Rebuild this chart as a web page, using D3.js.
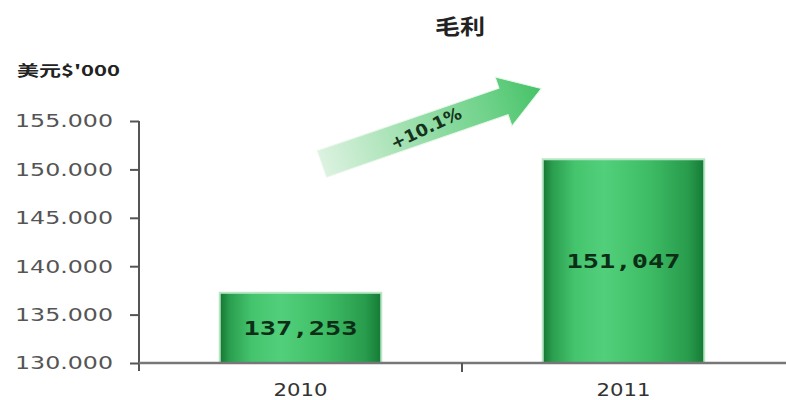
<!DOCTYPE html>
<html>
<head>
<meta charset="utf-8">
<script src="https://cdn.jsdelivr.net/npm/d3@7"></script>
<style>
  html, body { margin: 0; padding: 0; background: #fff; }
  svg { display: block; }
</style>
</head>
<body>
<svg id="chart" width="786" height="400"></svg>
<script>
// Gross profit by year (thousands)
const categories = ["2010", "2011"];
const values = [137253, 151047];
const yTicks = [130000, 135000, 140000, 145000, 150000, 155000];
const title = "毛利";
const unitLabel = "美元$'000";

const svg = d3.select("#chart");
const W = 786, H = 400;
const axisX = 139, axisY = 363, topY = 121;

const x = d3.scaleBand().domain(categories).range([axisX, W - 1])
  .paddingInner(0.5).paddingOuter(0.25);
const y = d3.scaleLinear().domain([130000, 155000]).range([axisY, topY]);

const defs = svg.append("defs");
const barGrad = defs.append("linearGradient").attr("id", "barGrad")
  .attr("x1", 0).attr("x2", 1).attr("y1", 0).attr("y2", 0);
[[0, "#147532"], [0.06, "#2a9e4e"], [0.2, "#45c46e"], [0.38, "#52cf7a"],
 [0.65, "#3fbd66"], [0.9, "#289c4c"], [1, "#157a36"]]
  .forEach(([o, c]) => barGrad.append("stop").attr("offset", o).attr("stop-color", c));

const arrowGrad = defs.append("linearGradient").attr("id", "arrowGrad")
  .attr("x1", 0).attr("x2", 1).attr("y1", 0).attr("y2", 0);
[[0, "#dcf2e0"], [0.35, "#a6e2b4"], [0.75, "#6fd28a"], [1, "#45c266"]]
  .forEach(([o, c]) => arrowGrad.append("stop").attr("offset", o).attr("stop-color", c));

// Title and unit label
svg.append("text").attr("x", 460).attr("y", 34).attr("text-anchor", "middle")
  .attr("font-family", "Noto Sans CJK TC, sans-serif").attr("font-weight", "bold")
  .attr("font-size", 21).attr("fill", "#222")
  .attr("textLength", 50).attr("lengthAdjust", "spacingAndGlyphs")
  .text(title);

svg.append("text").attr("x", 17).attr("y", 76)
  .attr("font-family", "Noto Sans CJK TC, DejaVu Sans, sans-serif").attr("font-weight", "bold")
  .attr("font-size", 15).attr("fill", "#222")
  .attr("textLength", 103).attr("lengthAdjust", "spacingAndGlyphs")
  .text(unitLabel);

// Bars
const bars = svg.append("g");
bars.selectAll("rect").data(values).join("rect")
  .attr("x", (d, i) => x(categories[i]))
  .attr("width", x.bandwidth())
  .attr("y", d => y(d))
  .attr("height", d => axisY - y(d))
  .attr("fill", "url(#barGrad)")
  .attr("stroke", "#b8e6c4").attr("stroke-width", 2);

bars.selectAll("text").data(values).join("text")
  .attr("x", (d, i) => x(categories[i]) + x.bandwidth() / 2)
  .attr("y", d => (y(d) + axisY) / 2 + 7)
  .attr("text-anchor", "middle")
  .attr("font-family", "DejaVu Sans Mono, monospace").attr("font-weight", "bold")
  .attr("font-size", 20).attr("fill", "#0c2e16")
  .attr("textLength", 114).attr("lengthAdjust", "spacingAndGlyphs")
  .text(d => d3.format(",")(d));

// Y axis
const yAxis = svg.append("g").attr("transform", `translate(${axisX},0)`)
  .call(d3.axisLeft(y).tickValues(yTicks).tickSize(9).tickSizeOuter(0)
    .tickFormat(d => d3.format(",")(d).replace(",", ".")));
yAxis.select(".domain").attr("stroke", "#555").attr("stroke-width", 2)
  .attr("d", `M0,${topY}V${axisY + 8}`);
yAxis.selectAll(".tick line").attr("stroke", "#555").attr("stroke-width", 2);
yAxis.selectAll(".tick text").attr("x", -26).attr("dy", "0.35em")
  .attr("font-family", "DejaVu Sans, sans-serif").attr("font-size", 17)
  .attr("fill", "#555")
  .attr("textLength", 98).attr("lengthAdjust", "spacingAndGlyphs");

// X axis
const xAxis = svg.append("g").attr("transform", `translate(0,${axisY})`);
xAxis.append("line").attr("x1", axisX).attr("x2", W).attr("y1", 0).attr("y2", 0)
  .attr("stroke", "#777").attr("stroke-width", 2.5);
// tick between the two categories
const midTick = (x(categories[0]) + x.bandwidth() + x(categories[1])) / 2;
xAxis.append("line").attr("x1", midTick).attr("x2", midTick).attr("y1", 0).attr("y2", 9)
  .attr("stroke", "#555").attr("stroke-width", 2);
xAxis.selectAll("text.cat").data(categories).join("text").attr("class", "cat")
  .attr("x", d => x(d) + x.bandwidth() / 2).attr("y", 33)
  .attr("text-anchor", "middle")
  .attr("font-family", "DejaVu Sans, sans-serif").attr("font-size", 17).attr("fill", "#333")
  .attr("textLength", 54).attr("lengthAdjust", "spacingAndGlyphs")
  .text(d => d);

// Growth arrow with computed percentage
const growth = values[1] / values[0] - 1;
const arrow = svg.append("g").attr("transform", "translate(322,164) rotate(-19)");
const len = 232, shaft = 14, head = 26, headLen = 40;
arrow.append("path")
  .attr("d", `M0,${-shaft}L${len - headLen},${-shaft}L${len - headLen},${-head}L${len},0L${len - headLen},${head}L${len - headLen},${shaft}L0,${shaft}Z`)
  .attr("fill", "url(#arrowGrad)")
  .attr("stroke", "#e8f6ea").attr("stroke-width", 1);
arrow.append("text").attr("x", 110).attr("y", 6).attr("text-anchor", "middle")
  .attr("transform", "rotate(-6,110,0)")
  .attr("font-family", "DejaVu Sans, sans-serif").attr("font-weight", "bold")
  .attr("font-size", 17).attr("fill", "#14321c")
  .attr("textLength", 76).attr("lengthAdjust", "spacingAndGlyphs")
  .text("+" + d3.format(".1f")(growth * 100) + "%");
</script>
</body>
</html>
